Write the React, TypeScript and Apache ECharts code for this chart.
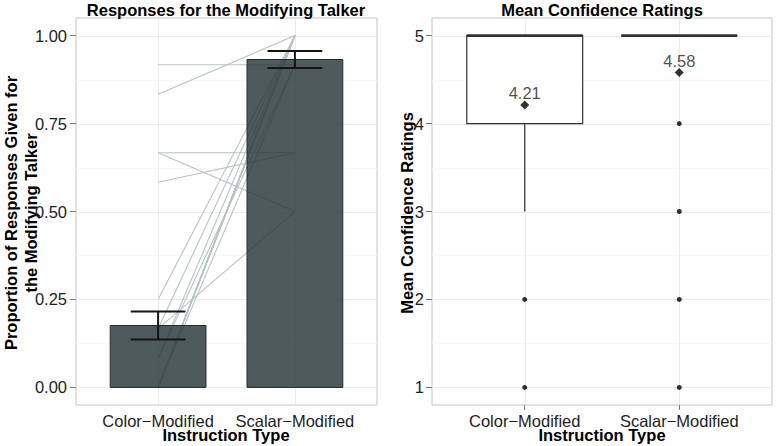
import React, { useEffect, useRef } from 'react';
import * as echarts from 'echarts';

// ---------- data ----------
const categories = ['Color\u2212Modified', 'Scalar\u2212Modified'];
const categoryPositions = [1, 2];

// Left panel: proportion of responses for the modifying talker
const barMeans = [0.176, 0.932];
const barSE = [0.04, 0.024];
// individual participants (color-modified value, scalar-modified value)
const colorModifiedProps = [0.917, 0.833, 0.667, 0.667, 0.583, 0.25, 0.167, 0.167, 0.083, 0.083, 0, 0, 0, 0, 0, 0, 0, 0, 0, 0, 0, 0, 0, 0];
const scalarModifiedProps = [0.917, 1, 0.667, 0.5, 0.667, 1, 0.5, 1, 1, 0.917, 1, 1, 1, 0.917, 1, 1, 1, 1, 1, 1, 1, 1, 1, 1];
const propTicks = [0, 0.25, 0.5, 0.75, 1];
const propMinor = [0.125, 0.375, 0.625, 0.875];

// Right panel: mean confidence ratings (boxplot)
const boxMin = [3, 5];
const boxQ1 = [4, 5];
const boxMedian = [5, 5];
const boxQ3 = [5, 5];
const boxMax = [5, 5];
const colorOutliers = [2, 1];
const scalarOutliers = [4, 3, 2, 1];
const confMeans = [4.21, 4.58];
const confTicks = [1, 2, 3, 4, 5];
const confMinor = [1.5, 2.5, 3.5, 4.5];

// ---------- styles ----------
const FONT = "'Liberation Sans', Arial, Helvetica, sans-serif";
const MAJOR = '#ebebeb';
const MINOR = '#f7f7f7';
const BORDER = '#c2c6c6';
const TEXT = '#1e1e1e';
const TITLE_FONT = `bold 16.5px ${FONT}`;

function gridLines(idx: number, hVals: number[], vVals: number[], color: string, xRef: number, yRef: number) {
  return [
    {
      type: 'custom', xAxisIndex: idx, yAxisIndex: idx, silent: true, z: 1,
      data: hVals.map((v) => [xRef, v]),
      renderItem: (params: any, api: any) => {
        const cs = params.coordSys;
        const y = Math.round(api.coord([api.value(0), api.value(1)])[1]) + 0.5;
        return { type: 'line', shape: { x1: cs.x, y1: y, x2: cs.x + cs.width, y2: y }, style: { stroke: color, lineWidth: 1 } };
      },
    },
    {
      type: 'custom', xAxisIndex: idx, yAxisIndex: idx, silent: true, z: 1,
      data: vVals.map((v) => [v, yRef]),
      renderItem: (params: any, api: any) => {
        const cs = params.coordSys;
        const x = Math.round(api.coord([api.value(0), api.value(1)])[0]) + 0.5;
        return { type: 'line', shape: { x1: x, y1: cs.y, x2: x, y2: cs.y + cs.height }, style: { stroke: color, lineWidth: 1 } };
      },
    },
  ];
}

function xAxisDef(gridIndex: number) {
  return {
    gridIndex, type: 'value', min: 0.4, max: 2.6,
    axisLine: { show: false },
    axisTick: { show: true, length: 5, customValues: categoryPositions, lineStyle: { color: '#7a7a7a' } },
    axisLabel: {
      customValues: categoryPositions, fontSize: 16.5, color: TEXT, margin: 7, fontFamily: FONT,
      formatter: (v: number) => categories[Math.round(v) - 1],
    },
    splitLine: { show: false },
  };
}

export default function App() {
  const ref = useRef<HTMLDivElement>(null);
  useEffect(() => {
    if (!ref.current) return;
    const chart = echarts.init(ref.current, null, { renderer: 'svg' });

    const participantLines = colorModifiedProps.map((c, i) => ({
      type: 'line', xAxisIndex: 0, yAxisIndex: 0, z: 2, silent: true,
      data: [[categoryPositions[0], c], [categoryPositions[1], scalarModifiedProps[i]]],
      symbol: 'none',
      lineStyle: { color: '#b9c3c3', width: 1.1 },
    }));

    const outlierData = [
      ...colorOutliers.map((v) => [categoryPositions[0], v]),
      ...scalarOutliers.map((v) => [categoryPositions[1], v]),
    ];

    const option: any = {
      animation: false,
      textStyle: { fontFamily: FONT },
      grid: [
        { left: 76, top: 18, width: 301, height: 387, show: true, borderColor: BORDER, borderWidth: 1, backgroundColor: '#fff', containLabel: false },
        { left: 432, top: 18, width: 340, height: 387, show: true, borderColor: BORDER, borderWidth: 1, backgroundColor: '#fff', containLabel: false },
      ],
      xAxis: [xAxisDef(0), xAxisDef(1)],
      yAxis: [
        {
          gridIndex: 0, type: 'value', min: -0.05, max: 1.05,
          axisLine: { show: false },
          axisTick: { show: true, length: 6, customValues: propTicks, lineStyle: { color: '#7a7a7a' } },
          axisLabel: { customValues: propTicks, fontSize: 16.5, color: TEXT, margin: 9, fontFamily: FONT, formatter: (v: number) => v.toFixed(2) },
          splitLine: { show: false },
        },
        {
          gridIndex: 1, type: 'value', min: 0.8, max: 5.2,
          axisLine: { show: false },
          axisTick: { show: true, length: 6, customValues: confTicks, lineStyle: { color: '#7a7a7a' } },
          axisLabel: { customValues: confTicks, fontSize: 16.5, color: TEXT, margin: 8, fontFamily: FONT, formatter: (v: number) => String(v) },
          splitLine: { show: false },
        },
      ],
      series: [
        ...gridLines(0, propMinor, [], MINOR, 1, 0.5),
        ...gridLines(0, propTicks, categoryPositions, MAJOR, 1, 0.5),
        ...gridLines(1, confMinor, [], MINOR, 1, 3),
        ...gridLines(1, confTicks, categoryPositions, MAJOR, 1, 3),
        ...participantLines,
        // bars (semi-transparent, over the participant lines)
        {
          type: 'custom', xAxisIndex: 0, yAxisIndex: 0, z: 4,
          data: barMeans.map((m, i) => [categoryPositions[i], m]),
          renderItem: (params: any, api: any) => {
            const x = api.value(0), y = api.value(1);
            const p0 = api.coord([x - 0.35, y]);
            const p1 = api.coord([x + 0.35, 0]);
            return {
              type: 'rect',
              shape: { x: p0[0], y: p0[1], width: p1[0] - p0[0], height: p1[1] - p0[1] },
              style: { fill: 'rgba(44,58,59,0.84)', stroke: '#252b2b', lineWidth: 1 },
            };
          },
        },
        // error bars
        {
          type: 'custom', xAxisIndex: 0, yAxisIndex: 0, z: 6,
          data: barMeans.map((m, i) => [categoryPositions[i], m - barSE[i], m + barSE[i]]),
          renderItem: (params: any, api: any) => {
            const x = api.value(0);
            const lo = api.value(1), hi = api.value(2);
            const top = api.coord([x, hi]);
            const bot = api.coord([x, lo]);
            const l = api.coord([x - 0.2, hi])[0];
            const r = api.coord([x + 0.2, hi])[0];
            const st = { stroke: '#141414', lineWidth: 2 };
            return {
              type: 'group',
              children: [
                { type: 'line', shape: { x1: top[0], y1: top[1], x2: bot[0], y2: bot[1] }, style: st },
                { type: 'line', shape: { x1: l, y1: top[1], x2: r, y2: top[1] }, style: st },
                { type: 'line', shape: { x1: l, y1: bot[1], x2: r, y2: bot[1] }, style: st },
              ],
            };
          },
        },
        // boxplot
        {
          type: 'custom', xAxisIndex: 1, yAxisIndex: 1, z: 3,
          data: categoryPositions.map((p, i) => [p, boxMin[i], boxQ1[i], boxMedian[i], boxQ3[i], boxMax[i]]),
          renderItem: (params: any, api: any) => {
            const x = api.value(0);
            const mn = api.coord([x, api.value(1)]);
            const q1 = api.coord([x - 0.375, api.value(2)]);
            const md = api.coord([x, api.value(3)]);
            const q3 = api.coord([x + 0.375, api.value(4)]);
            const mx = api.coord([x, api.value(5)]);
            const st = { stroke: '#333', lineWidth: 1.2 };
            return {
              type: 'group',
              children: [
                { type: 'line', shape: { x1: mn[0], y1: q1[1], x2: mn[0], y2: mn[1] }, style: st },
                { type: 'line', shape: { x1: mx[0], y1: q3[1], x2: mx[0], y2: mx[1] }, style: st },
                { type: 'rect', shape: { x: q1[0], y: q3[1], width: q3[0] - q1[0], height: q1[1] - q3[1] }, style: { fill: '#fff', stroke: '#333', lineWidth: 1.2 } },
                { type: 'line', shape: { x1: q1[0], y1: md[1], x2: q3[0], y2: md[1] }, style: { stroke: '#333', lineWidth: 2.6 } },
              ],
            };
          },
        },
        // outliers
        {
          type: 'scatter', xAxisIndex: 1, yAxisIndex: 1, z: 5,
          data: outlierData, symbol: 'circle', symbolSize: 5,
          itemStyle: { color: '#000' },
        },
        // means
        {
          type: 'scatter', xAxisIndex: 1, yAxisIndex: 1, z: 6,
          data: confMeans.map((m, i) => [categoryPositions[i], m]),
          symbol: 'diamond', symbolSize: 9,
          itemStyle: { color: '#000' },
          label: {
            show: true, position: 'top', distance: -1, fontSize: 16.5, color: TEXT, fontFamily: FONT,
            formatter: (p: any) => p.value[1].toFixed(2),
          },
        },
      ],
      graphic: [
        { type: 'text', x: 226, y: 10, style: { text: 'Responses for the Modifying Talker', font: TITLE_FONT, fill: '#000', textAlign: 'center', textVerticalAlign: 'middle' } },
        { type: 'text', x: 602, y: 10, style: { text: 'Mean Confidence Ratings', font: TITLE_FONT, fill: '#000', textAlign: 'center', textVerticalAlign: 'middle' } },
        { type: 'text', x: 226, y: 435, style: { text: 'Instruction Type', font: TITLE_FONT, fill: '#000', textAlign: 'center', textVerticalAlign: 'middle' } },
        { type: 'text', x: 602, y: 435, style: { text: 'Instruction Type', font: TITLE_FONT, fill: '#000', textAlign: 'center', textVerticalAlign: 'middle' } },
        { type: 'text', x: 21, y: 213, rotation: Math.PI / 2, style: { text: 'Proportion of Responses Given for\nthe Modifying Talker', font: TITLE_FONT, lineHeight: 20, fill: '#000', textAlign: 'center', textVerticalAlign: 'middle' } },
        { type: 'text', x: 407, y: 213, rotation: Math.PI / 2, style: { text: 'Mean Confidence Ratings', font: TITLE_FONT, fill: '#000', textAlign: 'center', textVerticalAlign: 'middle' } },
      ],
    };
    chart.setOption(option);
    return () => chart.dispose();
  }, []);
  return <div ref={ref} style={{ width: 777, height: 446, position: 'absolute', left: 0, top: 0 }} />;
}
